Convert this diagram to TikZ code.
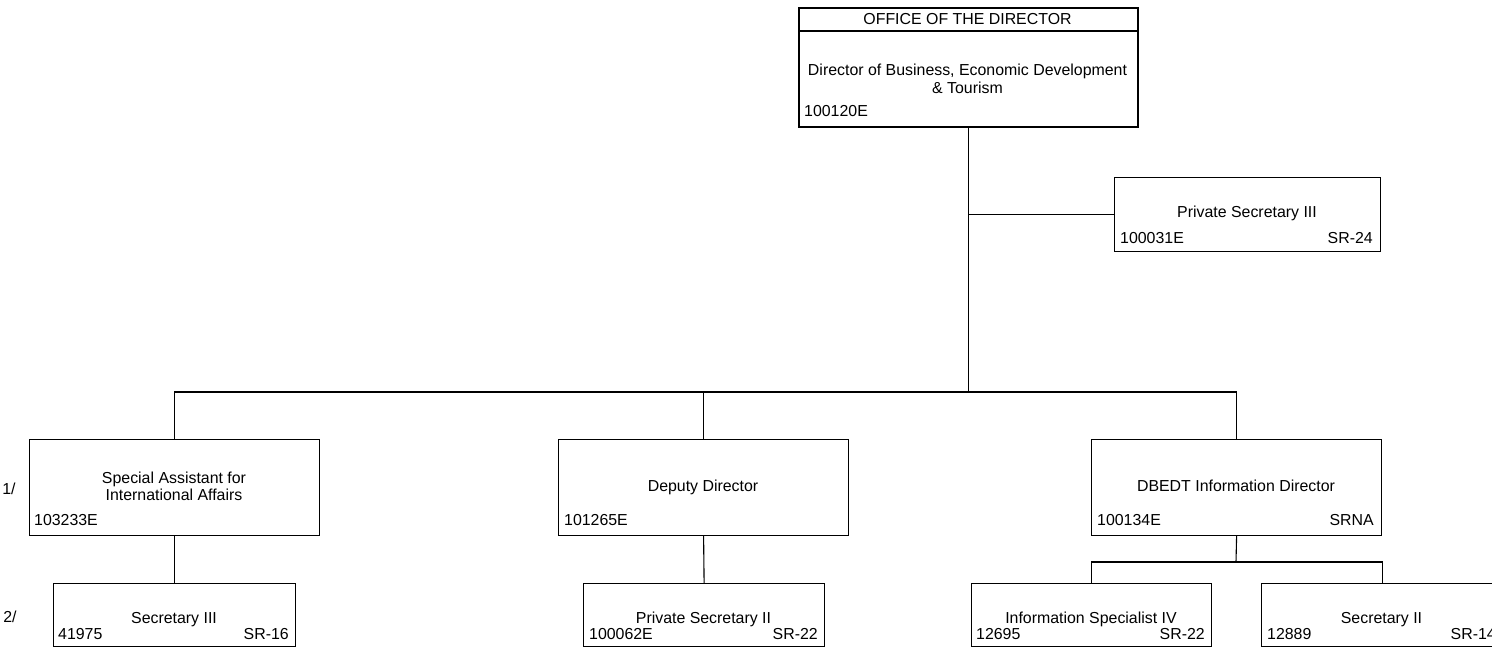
\documentclass[tikz,border=0pt]{standalone}
\usepackage{fontspec}
\setmainfont{Liberation Sans}
\begin{document}
\begin{tikzpicture}[x=1pt,y=-1pt,
  box/.style={draw, line width=1.2pt, inner sep=0pt, anchor=north west},
  topbox/.style={box, line width=2.2pt},
  conn/.style={draw, line width=1.1pt},
  lbl/.style={inner sep=0pt, text height=11.5pt, text depth=0pt, font=\fontsize{15.9}{18}\selectfont},
  lblL/.style={lbl, anchor=west},
  lblR/.style={lbl, anchor=east}
]
\useasboundingbox (0,0) rectangle (1492,655);

% boxes
\node[topbox, minimum width=339pt, minimum height=119pt] (dir) at (798,7) {};
\node[box, minimum width=266pt, minimum height=74pt] (ps3) at (1114,177) {};
\node[box, minimum width=290pt, minimum height=96pt] (sa) at (29,439) {};
\node[box, minimum width=290pt, minimum height=96pt] (dd) at (558,439) {};
\node[box, minimum width=290pt, minimum height=96pt] (dbedt) at (1091,439) {};
\node[box, minimum width=242pt, minimum height=63pt] (sec3) at (53,583) {};
\node[box, minimum width=241pt, minimum height=63pt] (ps2) at (583,583) {};
\node[box, minimum width=240pt, minimum height=63pt] (isp) at (971,583) {};
\node[box, minimum width=241pt, minimum height=63pt] (sec2) at (1261,583) {};

\coordinate (hdrL) at (798,31);
\coordinate (hdrR) at (1137,31);
\draw[line width=1.8pt] (hdrL) -- (hdrR);

% texts
\node[lbl] (t0) at (967.5,19) {OFFICE OF THE DIRECTOR};
\node[lbl] (t1) at (967.5,70) {Director of Business, Economic Development};
\node[lbl] (t2) at (967.5,88) {\& Tourism};
\node[lblL] (t3) at (804,111) {100120E};

\node[lbl] (p1) at (1247,212) {Private Secretary III};
\node[lblL] (p2) at (1120,238) {100031E};
\node[lblR] (p3) at (1373,238) {SR-24};

\node[lbl] (s1) at (174,478) {Special Assistant for};
\node[lbl] (s2) at (174,495) {International Affairs};
\node[lblL] (s3) at (34,520) {103233E};
\node[lbl] (n1) at (9,489) {1/};

\node[lbl] (d1) at (703,486) {Deputy Director};
\node[lblL] (d2) at (564,520) {101265E};

\node[lbl] (b1) at (1236,486) {DBEDT Information Director};
\node[lblL] (b2) at (1097,520) {100134E};
\node[lblR] (b3) at (1374,520) {SRNA};

\node[lbl] (c1) at (174,618) {Secretary III};
\node[lblL] (c2) at (58,634) {41975};
\node[lblR] (c3) at (289,634) {SR-16};
\node[lbl] (n2) at (10,617) {2/};

\node[lbl] (e1) at (703.5,618) {Private Secretary II};
\node[lblL] (e2) at (589,634) {100062E};
\node[lblR] (e3) at (818,634) {SR-22};

\node[lbl] (f1) at (1091,618) {Information Specialist IV};
\node[lblL] (f2) at (976,634) {12695};
\node[lblR] (f3) at (1205,634) {SR-22};

\node[lbl] (g1) at (1381.5,618) {Secretary II};
\node[lblL] (g2) at (1267,634) {12889};
\node[lblR] (g3) at (1496,634) {SR-14};

% connectors
\coordinate (bus) at (968,392);
\coordinate (subbus) at (1236,562);
\draw[conn] (dir.south) -- (dir.south |- bus);
\draw[conn] (dir.south |- ps3.west) -- (ps3.west);
\draw[conn] (sa.north) -- (sa.north |- bus) -- (dbedt.north |- bus) -- (dbedt.north);
\draw[conn] (dd.north) -- (dd.north |- bus);
\draw[conn] (sa.south) -- (sec3.north);
\draw[conn] (dd.south) -- (ps2.north);
\draw[conn] (dbedt.south) -- (subbus);
\draw[conn] (isp.north) |- (subbus) -| (sec2.north);
\end{tikzpicture}
\end{document}
